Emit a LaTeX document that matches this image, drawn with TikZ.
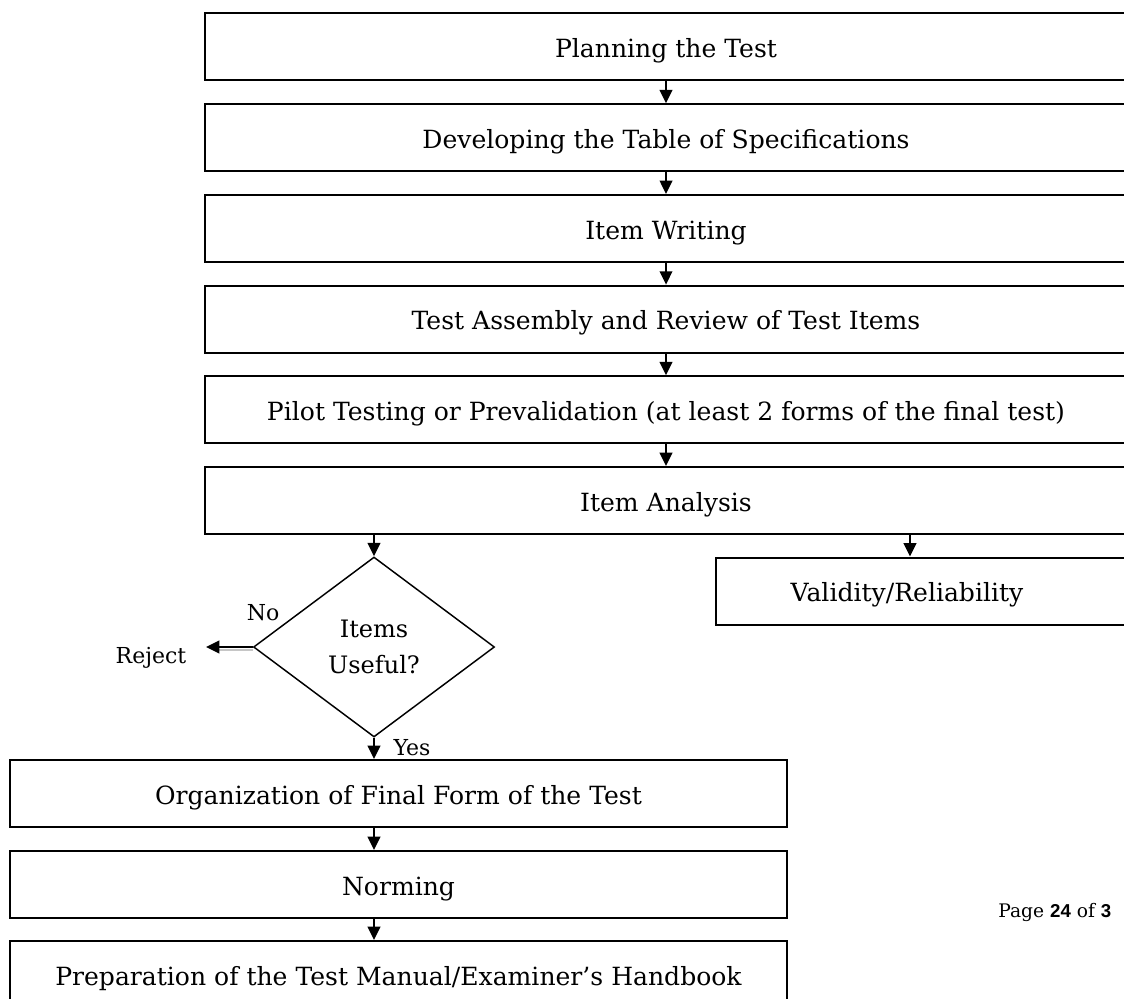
\documentclass[tikz,border=0pt]{standalone}
\usepackage{fontspec}
\setmainfont{DejaVu Serif}
\newfontfamily\pagefont{Liberation Sans}
\usetikzlibrary{arrows.meta,shapes.geometric}

\newcommand\boxfont{\fontsize{18.8}{22}\selectfont}

\begin{document}
\begin{tikzpicture}[x=0.75pt, y=-0.75pt,
    box/.style={draw, line width=1.5pt, minimum width=691.5pt, minimum height=50.25pt, inner sep=0pt, text height=17pt, text depth=1pt, font=\boxfont},
    lowbox/.style={box, minimum width=582.75pt},
    decision/.style={draw, diamond, line width=1.1pt, minimum width=180.75pt, minimum height=135pt, inner sep=0pt, align=center, font=\fontsize{18}{27}\selectfont},
    arr/.style={line width=1.4pt, -{Triangle[length=10pt,width=9.5pt]}},
    tag/.style={font=\fontsize{16.5}{20}\selectfont}]
    \useasboundingbox (0,0) rectangle (1124,999);
    % main column
    \node[box] (plan) at (666, 47) {Planning the Test};
    \node[box] (spec) at (666, 137.7) {Developing the Table of Specifications};
    \node[box] (write) at (666, 228.4) {Item Writing};
    \node[box] (assem) at (666, 319.1) {Test Assembly and Review of Test Items};
    \node[box] (pilot) at (666, 409.8) {Pilot Testing or Prevalidation (at least 2 forms of the final test)};
    \node[box] (anal) at (666, 500.5) {Item Analysis};
    \draw[arr] (plan) -- (spec);
    \draw[arr] (spec) -- (write);
    \draw[arr] (write) -- (assem);
    \draw[arr] (assem) -- (pilot);
    \draw[arr] (pilot) -- (anal);
    % right branch
    \node[box, minimum width=310.5pt, label={[font=\boxfont, text height=17pt, text depth=1pt, inner sep=0pt, xshift=-12pt]center:Validity/Reliability}] (valid) at (923, 591) {};
    \coordinate (vtop) at ([xshift=-9.75pt]valid.north);
    \draw[arr] (vtop |- anal.south) -- (vtop);
    % decision
    \node[decision] (dia) at (374, 647) {Items\\Useful?};
    \draw[arr] (dia.north |- anal.south) -- (dia.north);
    \coordinate (rej) at (206, 647);
    \draw[gray!45, line width=1.6pt] ([shift={(0,3)}]dia.west) -- ([shift={(10,3)}]rej);
    \draw[arr] (dia.west) -- (rej);
    \node[tag] (reject) at (151, 658) {Reject};
    \node[tag] (no) at (263, 613) {No};
    \node[tag] (yes) at (412, 748) {Yes};
    % lower column
    \node[lowbox] (org) at (398.5, 793.5) {Organization of Final Form of the Test};
    \node[lowbox] (norm) at (398.5, 884.5) {Norming};
    \node[lowbox] (prep) at (398.5, 974.5) {Preparation of the Test Manual/Examiner’s Handbook};
    \draw[arr] (dia.south) -- (dia.south |- org.north);
    \draw[arr] (org.south -| dia.south) -- (norm.north -| dia.south);
    \draw[arr] (norm.south -| dia.south) -- (prep.north -| dia.south);
    % page number
    \node[anchor=east, font=\fontsize{14}{16}\selectfont] (page) at (1116, 912) {Page {\pagefont\bfseries 24} of {\pagefont\bfseries 3}};
\end{tikzpicture}
\end{document}
